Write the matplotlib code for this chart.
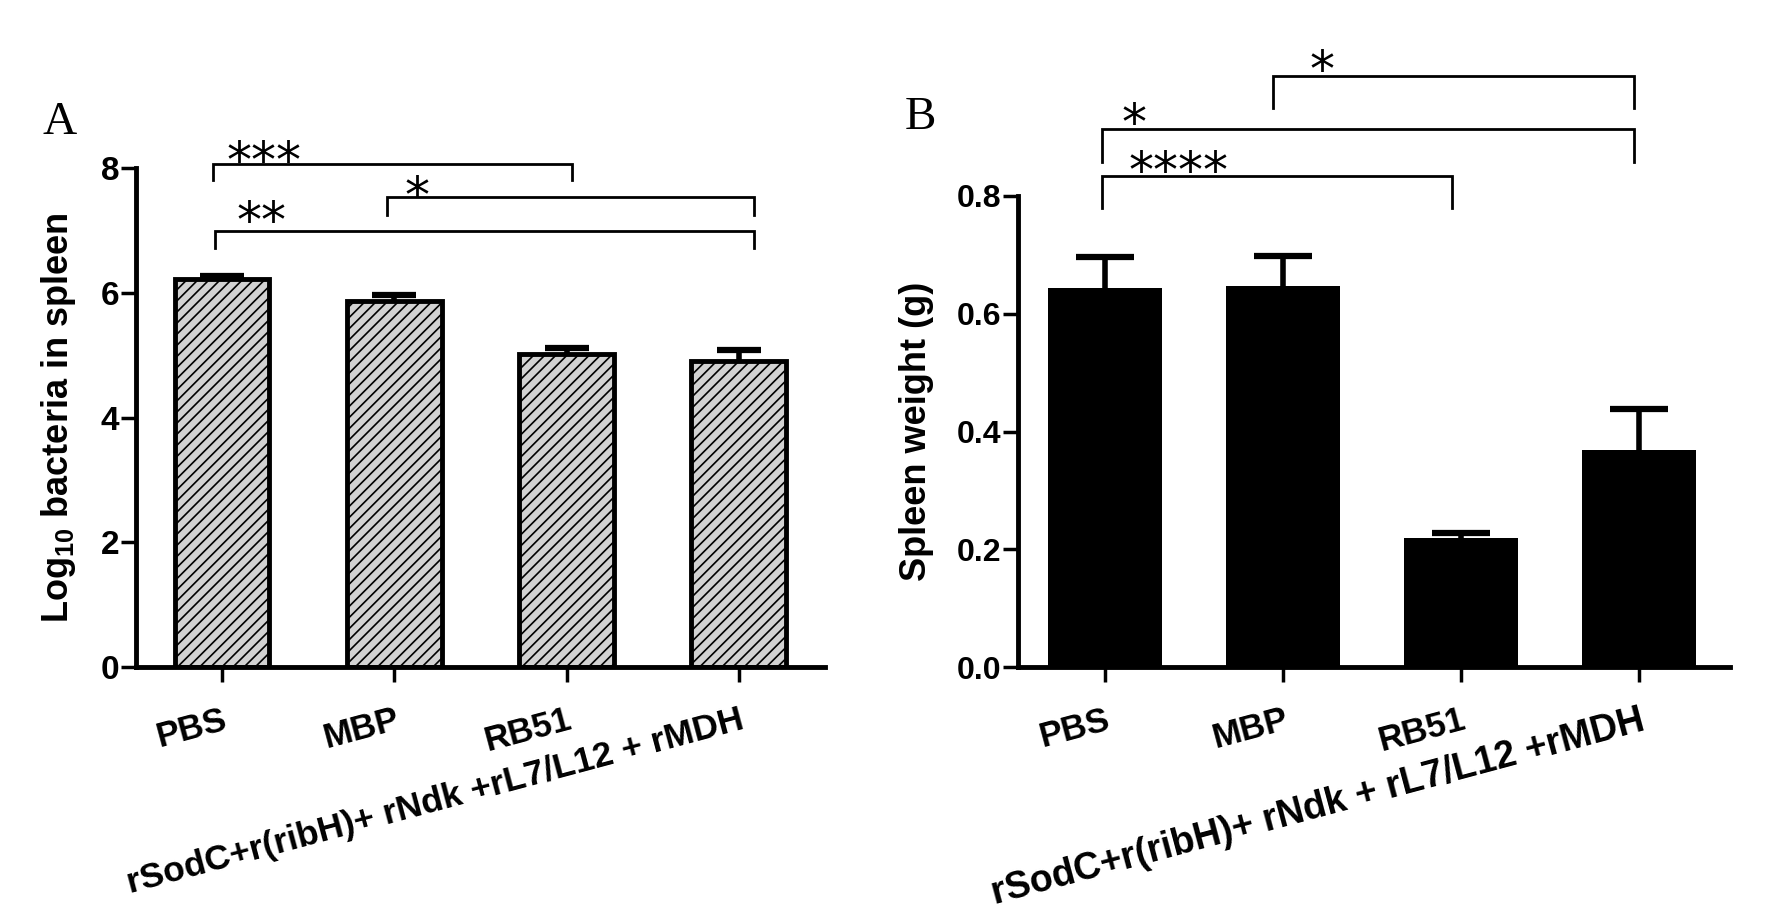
import matplotlib
matplotlib.use('Agg')
import matplotlib.pyplot as plt
import numpy as np

plt.rcParams['font.family'] = ['Liberation Sans', 'DejaVu Sans']
plt.rcParams['font.weight'] = 'bold'
plt.rcParams['axes.labelweight'] = 'bold'
plt.rcParams['mathtext.fontset'] = 'custom'
plt.rcParams['mathtext.rm'] = 'Liberation Sans:bold'
plt.rcParams['mathtext.bf'] = 'Liberation Sans:bold'
plt.rcParams['hatch.linewidth'] = 1.2

# data
groups_a = ['PBS', 'MBP', 'RB51', 'rSodC+r(ribH)+ rNdk +rL7/L12 + rMDH']
groups_b = ['PBS', 'MBP', 'RB51', 'rSodC+r(ribH)+ rNdk + rL7/L12 +rMDH']
log_bacteria = [6.22, 5.87, 5.02, 4.91]
log_bacteria_err = [0.05, 0.09, 0.10, 0.17]
spleen_weight = [0.644, 0.647, 0.219, 0.369]
spleen_weight_err = [0.052, 0.051, 0.008, 0.070]


def style_axes(ax, ysize):
    for s in ['top', 'right']:
        ax.spines[s].set_visible(False)
    for s in ['left', 'bottom']:
        ax.spines[s].set_linewidth(3.5)
    ax.tick_params(axis='both', width=2.5, length=11, direction='out')
    ax.tick_params(axis='y', labelsize=ysize, pad=1)
    ax.tick_params(axis='x', labelsize=25, pad=15)


def up_errorbar(ax, x, y, err, capsize):
    eb = ax.errorbar(x, y, yerr=[np.zeros(len(y)), err], fmt='none', ecolor='black',
                     elinewidth=4, capsize=capsize, capthick=4.5, zorder=3)
    # drop the lower caps, only the upper half is drawn
    eb[1][0].set_visible(False)


def bracket(ax, x1, x2, y, drop, stars, tx, ty):
    ax.plot([x1, x1, x2, x2], [y - drop, y, y, y - drop], color='black',
            lw=2.0, clip_on=False, solid_joinstyle='miter')
    ax.annotate(stars, (tx, ty), xytext=(0, -14), textcoords='offset points',
                ha='center', va='baseline', fontsize=36, fontweight='normal',
                family='DejaVu Sans', annotation_clip=False)


fig = plt.figure(figsize=(17.66, 9.18), dpi=100)

# ---- panel A
axA = fig.add_axes([0.0770, 0.2734, 0.3901, 0.5436])
x = np.arange(len(groups_a))
axA.bar(x, log_bacteria, width=0.55, color='#d2d2d2', edgecolor='black',
        linewidth=3.5, hatch='///', zorder=2)
up_errorbar(axA, x, log_bacteria, log_bacteria_err, 16)
axA.set_xlim(-0.5, 3.5)
axA.set_ylim(0, 8)
axA.set_yticks([0, 2, 4, 6, 8])
axA.set_xticks(x)
axA.set_xticklabels(groups_a, rotation=15, ha='right', va='top', rotation_mode='anchor')
axA.set_ylabel(r'Log$_{10}$ bacteria in spleen', fontsize=26, labelpad=16)
style_axes(axA, 24)
axA.get_xticklabels()[3].set_fontsize(25.5)

bracket(axA, -0.05, 2.03, 8.06, 0.25, '***', 0.245, 8.17)
bracket(axA, 0.96, 3.09, 7.53, 0.28, '*', 1.13, 7.61)
bracket(axA, -0.04, 3.09, 6.99, 0.27, '**', 0.23, 7.21)

# ---- panel B
axB = fig.add_axes([0.5764, 0.2734, 0.4032, 0.5131])
axB.bar(x, spleen_weight, width=0.64, color='black', zorder=2)
up_errorbar(axB, x, spleen_weight, spleen_weight_err, 21)
axB.set_xlim(-0.49, 3.51)
axB.set_ylim(0, 0.8)
axB.set_yticks([0.0, 0.2, 0.4, 0.6, 0.8])
axB.set_yticklabels(['0.0', '0.2', '0.4', '0.6', '0.8'])
axB.set_xticks(x)
axB.set_xticklabels(groups_b, rotation=15, ha='right', va='top', rotation_mode='anchor')
axB.set_ylabel('Spleen weight (g)', fontsize=26, labelpad=16)
style_axes(axB, 23)
axB.get_xticklabels()[3].set_fontsize(27)

bracket(axB, 0.945, 2.97, 1.004, 0.055, '*', 1.22, 1.019)
bracket(axB, -0.02, 2.97, 0.914, 0.056, '*', 0.16, 0.93)
bracket(axB, -0.02, 1.95, 0.834, 0.054, '****', 0.41, 0.849)

fig.text(0.034, 0.854, 'A', family='Liberation Serif', fontweight='normal',
         fontsize=34, ha='center', va='baseline')
fig.text(0.521, 0.860, 'B', family='Liberation Serif', fontweight='normal',
         fontsize=34, ha='center', va='baseline')

fig.savefig('out.png', dpi=100)
